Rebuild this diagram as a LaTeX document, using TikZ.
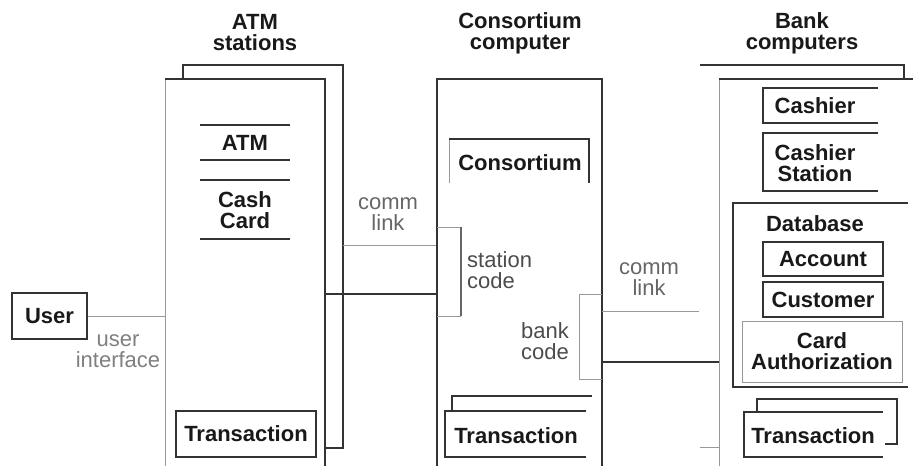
\documentclass[tikz,border=0pt]{standalone}
\usepackage{fontspec}
\setmainfont{Liberation Sans}
\begin{document}
\begin{tikzpicture}[x=1pt,y=-1pt,
  nm/.style={font=\fontsize{22}{21}\selectfont\bfseries, align=center, inner sep=0pt, text=black!90},
  lbl/.style={font=\fontsize{22}{21}\selectfont, align=center, inner sep=0pt, text=black!60},
  dk/.style={line width=1.3pt, draw=black!80},
  lt/.style={line width=1pt, draw=black!40},
  fbox/.style={nm, draw=black!80, line width=1.3pt},
  gbox/.style={nm, draw=black!40, line width=1pt}]
\useasboundingbox[fill=white] (0,0) rectangle (913,466);

% ---------- titles ----------
\node[nm] (tatm) at (255,33) {ATM\\stations};
\node[nm] (tcons) at (520,33) {Consortium\\computer};
\node[nm] (tbank) at (802,33) {Bank\\computers};

% ---------- ATM stations ----------
\coordinate (atmFL) at (165,466);
\coordinate (atmFTL) at (165,79);
\coordinate (atmFTR) at (325,79);
\coordinate (atmFR) at (325,466);
\draw[lt] (atmFL) -- (atmFTL);
\draw[dk] (atmFTL) -- (atmFTR) -- (atmFR);
\coordinate (atmB1) at (183,79);
\coordinate (atmB2) at (183,65);
\coordinate (atmB3) at (343,65);
\coordinate (atmB4) at (343,448);
\coordinate (atmB5) at (325,448);
\draw[dk] (atmB1) -- (atmB2) -- (atmB3) -- (atmB4) -- (atmB5);

\draw[dk] (200,125) -- (290,125);
\node[nm] (atm) at (245,143) {ATM};
\draw[dk] (200,160) -- (290,160);
\draw[dk] (200,180) -- (290,180);
\node[nm] (cash) at (245,210) {Cash\\Card};
\draw[dk] (200,239) -- (290,239);

\node[fbox, minimum width=140pt, minimum height=46pt] (atmtr) at (246,434) {Transaction};

% ---------- User ----------
\node[fbox, minimum width=75pt, minimum height=46pt] (user) at (49.5,316) {User};
\coordinate (uif) at (165,316);
\draw[lt] (user.east) -- (uif);
\node[lbl, text=black!50] (uiflbl) at (118,351) {user\\interface};

% ---------- comm link (left) ----------
\coordinate (cl1a) at (343,245);
\coordinate (cl1b) at (437,245);
\coordinate (cl2a) at (325,294);
\coordinate (cl2b) at (437,294);
\draw[lt] (cl1a) -- (cl1b);
\draw[dk] (cl2a) -- (cl2b);
\node[lbl] (comm1) at (388,214) {comm\\link};

% ---------- Consortium computer ----------
\coordinate (cL) at (437,466);
\coordinate (cTL) at (437,79);
\coordinate (cTR) at (602,79);
\coordinate (cR) at (602,466);
\draw[dk] (cL) -- (cTL) -- (cTR) -- (cR);

\draw[lt] (449,183) -- (449,139);
\draw[dk] (449,139) -- (589,139) -- (589,183);
\node[nm] (cons) at (520,163) {Consortium};

\draw[lt] (437,227) -- (461,227);
\draw[line width=1.1pt, draw=black!60] (461,227) -- (461,316);
\draw[lt] (461,316) -- (437,316);
\node[lbl, align=left, anchor=west, text=black!70] (stcode) at (467,270) {station\\code};

\draw[lt] (602,294) -- (579,294) -- (579,379) -- (602,379);
\node[lbl, align=left, anchor=west, text=black!70] (bkcode) at (521,341) {bank\\code};

\draw[dk] (452,411) -- (452,396) -- (592,396);
\draw[dk] (586,411) -- (445,411) -- (445,457) -- (586,457);
\node[nm] (constr) at (516,436) {Transaction};

% ---------- comm link (right) ----------
\coordinate (cr1a) at (602,311);
\coordinate (cr1b) at (699,311);
\coordinate (cr2a) at (602,362);
\coordinate (cr2b) at (719,362);
\draw[lt] (cr1a) -- (cr1b);
\draw[dk] (cr2a) -- (cr2b);
\node[lbl] (comm2) at (649,279) {comm\\link};

% ---------- Bank computers ----------
\draw[dk] (700,65) -- (904,65) -- (904,79);
\draw[lt] (700,447) -- (719,447);
\draw[lt] (719,466) -- (719,79);
\draw[dk] (719,79) -- (913,79);

\draw[dk] (878,88) -- (763,88) -- (763,123) -- (878,123);
\node[nm] (cashier) at (815,106) {Cashier};
\draw[dk] (878,133) -- (763,133) -- (763,191) -- (878,191);
\node[nm] (cstation) at (815,163) {Cashier\\Station};

\draw[dk] (908,203) -- (733,203) -- (733,387) -- (908,387);
\node[nm] (db) at (815,224) {Database};
\node[fbox, minimum width=120pt, minimum height=34pt] (acct) at (823,259) {Account};
\node[fbox, minimum width=120pt, minimum height=35pt] (cust) at (823,299.5) {Customer};
\node[gbox, minimum width=160pt, minimum height=61pt] (cardauth) at (822,351.5) {Card\\Authorization};

\draw[dk] (757,412) -- (757,399) -- (897,399) -- (897,444) -- (885,444);
\draw[dk] (883,412) -- (744,412) -- (744,457) -- (883,457);
\node[nm] (banktr) at (813,436) {Transaction};
\end{tikzpicture}
\end{document}
